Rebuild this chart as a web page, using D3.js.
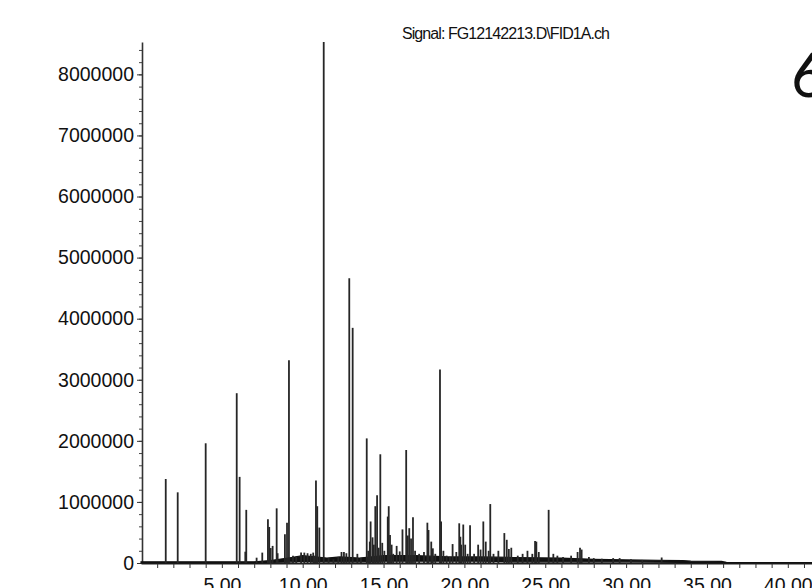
<!DOCTYPE html>
<html>
<head>
<meta charset="utf-8">
<script src="https://cdn.jsdelivr.net/npm/d3@7"></script>
<style>
  body { margin: 0; background: #fff; }
  svg { display: block; font-family: "Liberation Sans", Arial, sans-serif; }
</style>
</head>
<body>
<div id="chart"></div>
<script>
// retention time (min) and abundance of the resolved peaks
var peakTimes = [1.53, 2.27, 4.00, 5.92, 6.10, 6.45, 6.51, 7.15, 7.50, 7.85, 7.93, 8.02, 8.14, 8.39, 8.45,
    8.90, 9.03, 9.15, 10.82, 10.90, 11.03, 11.30, 12.88, 13.09, 13.96, 14.20, 14.32, 14.49, 14.60,
    14.80, 14.92, 15.26, 15.32, 15.40, 16.17, 16.40, 16.59, 16.70, 16.82, 17.71, 17.78, 18.49, 18.56,
    19.27, 19.68, 19.75, 19.93, 20.35, 21.17, 21.32, 21.60, 22.47, 22.62, 24.37, 24.45, 25.21, 27.15];
var peakHeights = [1375000, 1157000, 1960000, 2780000, 1410000, 185000, 870000, 87000, 170000, 715000, 590000, 245000, 280000, 895000, 160000,
    470000, 660000, 3320000, 1350000, 930000, 580000, 8530000, 4660000, 3850000, 2040000, 680000, 420000, 930000, 1110000,
    1780000, 330000, 760000, 930000, 460000, 550000, 1850000, 570000, 400000, 750000, 660000, 540000, 3170000, 680000,
    310000, 650000, 430000, 630000, 620000, 680000, 350000, 965000, 490000, 380000, 360000, 350000, 870000, 250000];

// small peaks in the noisy middle of the run
var minorTimes = [9.4, 9.6, 9.9, 10.1, 10.3, 10.5, 10.65, 10.75, 11.6, 11.9, 12.2, 12.4, 12.55, 12.7, 13.38, 13.6,
    14.05, 14.15, 14.4, 14.7, 15.05, 15.5, 15.6, 15.81, 16.0, 16.5, 16.95, 17.2, 17.5,
    17.95, 18.05, 18.2, 18.7, 18.9, 19.1, 19.5, 19.8, 20.05, 20.2, 20.6, 20.85, 21.0, 21.5, 21.8, 22.1,
    22.75, 22.9, 23.3, 23.6, 23.9, 24.2, 24.6, 25.5, 25.75, 26.1, 26.6, 27.0, 27.25, 27.7, 28.0, 28.5,
    29.2, 29.6, 30.3, 31.0, 32.2];
var minorHeights = [120000, 100000, 170000, 170000, 160000, 150000, 170000, 120000, 80000, 60000, 100000, 180000, 180000, 160000, 150000, 80000,
    200000, 350000, 300000, 250000, 200000, 300000, 150000, 280000, 190000, 450000, 200000, 150000, 180000,
    350000, 240000, 150000, 200000, 120000, 100000, 180000, 300000, 300000, 150000, 150000, 300000, 220000, 200000, 150000, 200000,
    230000, 250000, 120000, 150000, 200000, 150000, 180000, 150000, 120000, 100000, 120000, 180000, 220000, 100000, 80000, 70000,
    80000, 80000, 60000, 50000, 90000];

// noise band of the baseline: lower and upper edge
var baseTimes = [0, 7, 8, 9.3, 10, 11.5, 12.3, 13.5, 15, 17, 19, 21, 23, 26, 28, 30, 32, 33.5, 34, 35.9, 36.2, 42];
var baseLow   = [0, 0, 10000, 20000, 30000, 20000, 20000, 20000, 30000, 30000, 30000, 30000, 20000, 20000, 20000, 20000, 15000, 10000, 5000, 5000, 0, 0];
var baseHigh  = [20000, 20000, 40000, 90000, 120000, 80000, 100000, 80000, 120000, 120000, 100000, 100000, 90000, 80000, 60000, 50000, 45000, 40000, 30000, 25000, 10000, 5000];

var yTickValues = [0, 1000000, 2000000, 3000000, 4000000, 5000000, 6000000, 7000000, 8000000];
var xTickValues = [5, 10, 15, 20, 25, 30, 35, 40];
var title = 'Signal: FG12142213.D\\FID1A.ch';

var width = 812, height = 588,
    svg = d3.select('#chart')
        .append('svg')
        .attr('width', width)
        .attr('height', height);

var x = d3.scaleLinear().domain([0, 42]).range([141, 141 + 42 * 16.17]);
var y = d3.scaleLinear().domain([0, 8530000]).range([563, 42]);

// y axis: minor ticks every 200000, labelled ticks every 1000000
var yMinor = d3.range(0, 8500001, 200000);
svg.append('g')
    .attr('transform', 'translate(142,0)')
    .call(d3.axisLeft(y).tickValues(yMinor).tickSize(3).tickFormat(''))
    .call(function (g) { g.select('.domain').remove(); })
    .selectAll('line').attr('stroke', '#444');

svg.append('g')
    .attr('class', 'y-axis')
    .attr('transform', 'translate(142,0)')
    .call(d3.axisLeft(y).tickValues(yTickValues).tickSize(5).tickSizeOuter(0).tickPadding(3)
        .tickFormat(d3.format('d')))
    .call(function (g) {
        g.select('.domain').attr('stroke', '#333').attr('stroke-width', 1.6);
        g.selectAll('line').attr('stroke', '#333');
        g.selectAll('text').attr('font-size', '19.5px').attr('fill', '#111')
            .attr('font-family', '"Liberation Sans", Arial, sans-serif');
    });

// x axis: a tick every minute, labels every 5
svg.append('g')
    .attr('transform', 'translate(0,563)')
    .call(d3.axisBottom(x).tickValues(d3.range(1, 42)).tickSize(5).tickSizeOuter(0).tickPadding(10)
        .tickFormat(function (d) { return xTickValues.indexOf(d) >= 0 ? d3.format('.2f')(d) : ''; }))
    .call(function (g) {
        g.select('.domain').attr('stroke', '#222').attr('stroke-width', 2);
        g.selectAll('line').attr('stroke', '#333');
        g.selectAll('text').attr('font-size', '19.5px').attr('fill', '#111')
            .attr('font-family', '"Liberation Sans", Arial, sans-serif');
    });

// baseline noise band
var band = d3.area()
    .x(function (d) { return x(d[0]); })
    .y0(function (d) { return y(d[1]); })
    .y1(function (d) { return y(d[2]); });

svg.append('path')
    .datum(d3.zip(baseTimes, baseLow, baseHigh))
    .attr('d', band)
    .attr('fill', '#111')
    .attr('stroke', '#111')
    .attr('stroke-width', 1.2);

// peaks
var peaks = d3.zip(minorTimes, minorHeights).concat(d3.zip(peakTimes, peakHeights));

svg.append('g')
    .selectAll('line')
    .data(peaks)
    .enter().append('line')
    .attr('x1', function (d) { return x(d[0]); })
    .attr('x2', function (d) { return x(d[0]); })
    .attr('y1', y(0))
    .attr('y2', function (d) { return y(d[1]); })
    .attr('stroke', '#262626')
    .attr('stroke-width', 1.8);

svg.append('text')
    .attr('x', 402)
    .attr('y', 39)
    .attr('font-size', '16px')
    .attr('textLength', 208)
    .attr('lengthAdjust', 'spacing')
    .attr('fill', '#111')
    .text(title);

svg.append('text')
    .attr('x', 791)
    .attr('y', 97)
    .attr('font-size', '61px')
    .attr('font-family', 'Lato, "DejaVu Sans", sans-serif')
    .attr('font-weight', 400)
    .attr('fill', '#111')
    .text('6');
</script>
</body>
</html>
